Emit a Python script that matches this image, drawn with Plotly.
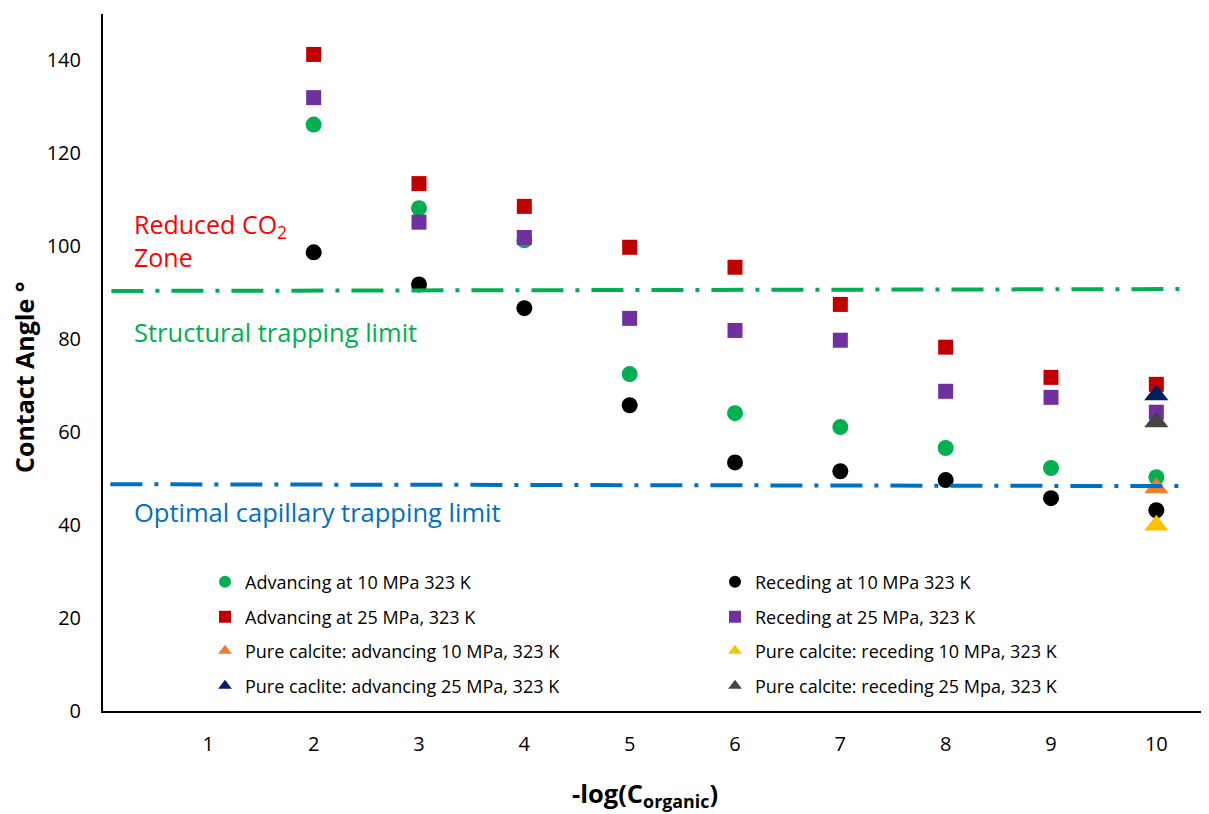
import plotly.graph_objects as go

# ---------------- data ----------------
x_conc = [2, 3, 4, 5, 6, 7, 8, 9, 10]
adv_10 = [126.2, 108.2, 101.3, 72.5, 64.1, 61.1, 56.6, 52.3, 50.3]
rec_10 = [98.7, 91.8, 86.7, 65.8, 53.5, 51.6, 49.7, 45.8, 43.2]
adv_25 = [141.3, 113.5, 108.6, 99.8, 95.5, 87.5, 78.3, 71.8, 70.3]
rec_25 = [132.0, 105.2, 101.9, 84.5, 81.9, 79.8, 68.8, 67.5, 64.3]

x_calcite = [10]
calcite_adv_10 = [48.0]
calcite_rec_10 = [40.0]
calcite_adv_25 = [68.0]
calcite_rec_25 = [62.2]

structural_x = [0.08, 10.25]
structural_y = [90.4, 90.8]
capillary_x = [0.07, 10.25]
capillary_y = [48.8, 48.4]

x_ticks = [1, 2, 3, 4, 5, 6, 7, 8, 9, 10]
y_ticks = [0, 20, 40, 60, 80, 100, 120, 140]

FONT = "Open Sans"

series = [
    ("Advancing at 10 MPa 323 K", x_conc, adv_10, "circle", "#00B050", 16),
    ("Receding at 10 MPa 323 K", x_conc, rec_10, "circle", "#000000", 16),
    ("Advancing at 25 MPa, 323 K", x_conc, adv_25, "square", "#C00000", 15),
    ("Receding at 25 MPa, 323 K", x_conc, rec_25, "square", "#7030A0", 15),
    ("Pure calcite: advancing 10 MPa, 323 K", x_calcite, calcite_adv_10, "triangle-up", "#ED7D31", 21),
    ("Pure calcite: receding 10 MPa, 323 K", x_calcite, calcite_rec_10, "triangle-up", "#FFC000", 21),
    ("Pure caclite: advancing 25 MPa, 323 K", x_calcite, calcite_adv_25, "triangle-up", "#002060", 21),
    ("Pure calcite: receding 25 Mpa, 323 K", x_calcite, calcite_rec_25, "triangle-up", "#444444", 21),
]

fig = go.Figure()

# page body has an 8px margin; compensate so the figure lands where the reference is
OFF = 8
W, H = 1209, 814 - OFF
ml, mr, mt, mb = 103 - OFF, OFF, 14 - OFF, 103
pw = W - ml - mr
ph = H - mt - mb


def px_x(px):
    return (px - OFF - ml) / pw


def px_y(py):
    return (H - mb - (py - OFF)) / ph


col_x_px = [205, 715]
row_y_px = [582, 617, 651, 686]

for i, (name, xs, ys, sym, col, sz) in enumerate(series):
    lname = "legend" if i == 0 else f"legend{i+1}"
    fig.add_trace(go.Scatter(
        x=xs, y=ys, mode="markers", name=name,
        marker=dict(symbol=sym, color=col, size=sz, line=dict(width=0)),
        legend=lname,
    ))

fig.add_trace(go.Scatter(
    x=structural_x, y=structural_y, mode="lines", showlegend=False,
    line=dict(color="#00B050", width=4, dash="32px,12px,4px,12px"),
))
fig.add_trace(go.Scatter(
    x=capillary_x, y=capillary_y, mode="lines", showlegend=False,
    line=dict(color="#0070C0", width=4, dash="32px,12px,4px,12px"),
))

layout_legends = {}
for i in range(8):
    lname = "legend" if i == 0 else f"legend{i+1}"
    layout_legends[lname] = dict(
        x=px_x(col_x_px[i % 2]), y=px_y(row_y_px[i // 2]),
        xanchor="left", yanchor="middle",
        bgcolor="rgba(0,0,0,0)",
        font=dict(family=FONT, size=18, color="#000000"),
        itemsizing="constant",
    )

fig.update_layout(
    width=W, height=H,
    margin=dict(l=ml, r=mr, t=mt, b=mb),
    paper_bgcolor="white", plot_bgcolor="white",
    font=dict(family=FONT, color="#000000"),
    showlegend=True,
    **layout_legends,
)

fig.update_xaxes(
    range=[0, 10.5], tickvals=x_ticks, ticktext=[str(v) for v in x_ticks],
    showgrid=False, zeroline=False, showline=True, linecolor="#000000", linewidth=2,
    ticks="", tickfont=dict(family=FONT, size=20, color="#000000"),
    ticklabelstandoff=14,
)
fig.update_yaxes(
    range=[0, 150], tickvals=y_ticks,
    showgrid=False, zeroline=False, showline=True, linecolor="#000000", linewidth=2,
    ticks="", tickfont=dict(family=FONT, size=20, color="#000000"),
    ticklabelstandoff=16,
)

# axis titles
fig.add_annotation(
    x=px_x(24), y=px_y(378), xref="paper", yref="paper", xanchor="center", yanchor="middle",
    text="<b>Contact Angle °</b>", textangle=-90, showarrow=False,
    font=dict(family=FONT, size=25, color="#000000"),
)
fig.add_annotation(
    x=px_x(645), y=px_y(794), xref="paper", yref="paper", xanchor="center", yanchor="middle",
    text="<b>-log(C<sub>organic</sub>)</b>", showarrow=False,
    font=dict(family=FONT, size=25.5, color="#000000"),
)

fig.add_annotation(
    x=0.28, y=101.3, xref="x", yref="y", xanchor="left", yanchor="middle", align="left",
    text="Reduced CO<sub>2</sub><br>Zone", showarrow=False,
    font=dict(family=FONT, size=25, color="#FF0000"),
)
fig.add_annotation(
    x=0.28, y=81.6, xref="x", yref="y", xanchor="left", yanchor="middle", align="left",
    text="Structural trapping limit", showarrow=False,
    font=dict(family=FONT, size=25.5, color="#00B050"),
)
fig.add_annotation(
    x=0.28, y=42.9, xref="x", yref="y", xanchor="left", yanchor="middle", align="left",
    text="Optimal capillary trapping limit", showarrow=False,
    font=dict(family=FONT, size=25.5, color="#0070C0"),
)

fig.write_html("out.html")
